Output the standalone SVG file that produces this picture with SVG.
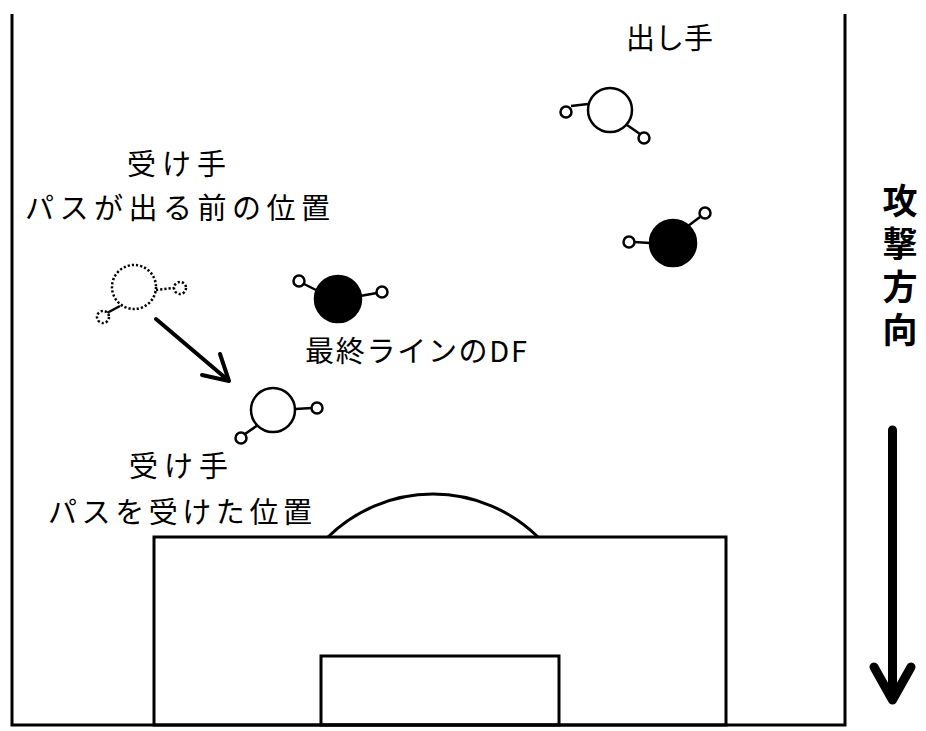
<svg xmlns="http://www.w3.org/2000/svg" width="926" height="731" viewBox="0 0 926 731">
<style>
.line{fill:none;stroke:#000;stroke-width:3}
.pw{fill:#fff;stroke:#000;stroke-width:2.5}
.pb{fill:#000;stroke:#000;stroke-width:2.5}
.pd{fill:#fff;stroke:#000;stroke-width:2.5;stroke-dasharray:2.2 2}
.arm{stroke:#000;stroke-width:2.5;fill:none}
.armd{stroke:#000;stroke-width:2.5;fill:none;stroke-dasharray:2.2 2}
.t{font-family:"Noto Sans CJK JP","Noto Sans",sans-serif;font-size:29px;fill:#000}
.tv{font-family:"Noto Sans CJK JP",sans-serif;font-size:35px;font-weight:bold;fill:#000;writing-mode:vertical-rl;letter-spacing:8px}
</style>
<rect width="926" height="731" fill="#fff"/>
<g id="field">
<path class="line" d="M12,14 V725 H845 V14"/>
<rect class="line" x="154" y="537" width="572" height="188"/>
<rect class="line" x="321" y="656" width="238" height="69"/>
<path class="line" d="M328,537 A150,150 0 0 1 538,537"/>
</g>
<g id="passer">
<line class="arm" x1="571" y1="106" x2="588" y2="104"/>
<line class="arm" x1="627" y1="125" x2="640" y2="134"/>
<circle class="pw" cx="610" cy="110" r="22"/>
<circle class="pw" cx="566" cy="112" r="5.5"/>
<circle class="pw" cx="644" cy="138" r="5.5"/>
</g>
<g id="df-right">
<line class="arm" x1="634" y1="242" x2="650" y2="243"/>
<line class="arm" x1="688" y1="226" x2="700" y2="217"/>
<circle class="pb" cx="673" cy="243" r="23"/>
<circle class="pw" cx="629" cy="242" r="5.5"/>
<circle class="pw" cx="705" cy="213" r="5.5"/>
</g>
<g id="df-mid">
<line class="arm" x1="304" y1="284" x2="320" y2="292"/>
<line class="arm" x1="360" y1="296" x2="377" y2="293"/>
<circle class="pb" cx="338" cy="299" r="23"/>
<circle class="pw" cx="299" cy="281" r="5.5"/>
<circle class="pw" cx="382" cy="292" r="5.5"/>
</g>
<g id="receiver-before">
<line class="armd" x1="156" y1="290" x2="174" y2="288"/>
<line class="arm" x1="120" y1="306" x2="107" y2="313"/>
<circle class="pd" cx="134" cy="287" r="22"/>
<circle class="pd" cx="180" cy="288" r="6"/>
<circle class="pd" cx="103" cy="317" r="6"/>
</g>
<g id="receiver-after">
<line class="arm" x1="295" y1="409" x2="312" y2="408"/>
<line class="arm" x1="258" y1="425" x2="245" y2="434"/>
<circle class="pw" cx="273" cy="410" r="22"/>
<circle class="pw" cx="317" cy="408" r="5.5"/>
<circle class="pw" cx="241" cy="438" r="5.5"/>
</g>
<g id="connectors">
<path d="M156,319 L229,381 M220,354 L229,381 L202,375" fill="none" stroke="#000" stroke-width="4" stroke-linecap="round" stroke-linejoin="round"/>
<path d="M892.5,430 V700 M874,667 L892.5,700 L911,667" fill="none" stroke="#000" stroke-width="9" stroke-linecap="round" stroke-linejoin="round"/>
</g>
<g id="labels">
<text class="t" x="626" y="49" font-size="22">出し手</text>
<text class="t" x="127" y="175" textLength="99" lengthAdjust="spacing">受け手</text>
<text class="t" x="25" y="219" textLength="305" lengthAdjust="spacing">パスが出る前の位置</text>
<text class="t" x="305" y="362" font-size="26" textLength="222" lengthAdjust="spacing">最終ラインのDF</text>
<text class="t" x="129" y="477" textLength="99" lengthAdjust="spacing">受け手</text>
<text class="t" x="48" y="523" textLength="264" lengthAdjust="spacing">パスを受けた位置</text>
<text class="tv" x="900" y="183">攻撃方向</text>
</g>
</svg>
